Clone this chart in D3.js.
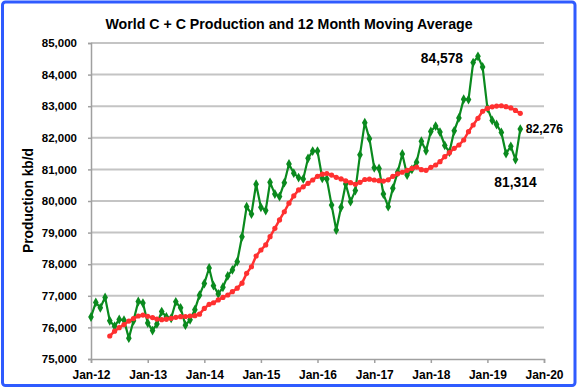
<!DOCTYPE html>
<html><head><meta charset="utf-8">
<script src="https://cdn.jsdelivr.net/npm/d3@7"></script>
<style>
html,body{margin:0;padding:0;background:#fff;}
svg{display:block;}
text{font-family:"Liberation Sans",Arial,sans-serif;font-weight:bold;fill:#000;}
</style></head>
<body>
<svg id="chart" width="578" height="390"></svg>
<script>
// ---- data ----
const title = "World C + C Production and 12 Month Moving Average";
const yAxisTitle = "Production kb/d";
const firstMonth = "2012-01";          // month of the first production value
const maFirstMonth = "2012-05";        // month of the first moving-average value
const xTickLabels = ["Jan-12","Jan-13","Jan-14","Jan-15","Jan-16","Jan-17","Jan-18","Jan-19","Jan-20"];
const yTicks = [75000,76000,77000,78000,79000,80000,81000,82000,83000,84000,85000];
const production = [
  76330,76790,76620,76950,76210,76040,76250,76230,75660,76210,76820,76770,
  76140,75900,76110,76500,76330,76290,76810,76620,76070,76240,76560,77020,
  77390,77880,77320,77060,77270,77630,77820,78080,78870,79820,79590,80530,
  79800,79700,80590,80220,80140,80580,81170,80880,80740,80700,81350,81580,
  81580,80720,80700,79870,79080,79800,80540,79980,80330,81460,82480,81970,
  81050,81030,80220,79820,80400,80910,81490,80820,81000,81230,81890,81590,
  82200,82370,82180,81760,81550,82220,82630,83220,83210,84380,84578,84240,
  82940,82550,82420,82170,81500,81730,81314,82276
];
const movingAvg = [
  75728,75880,75990,76090,76200,76280,76360,76390,
  76350,76310,76265,76245,76260,76287,76320,76340,76345,76360,76370,76420,
  76600,76730,76780,76870,76950,77025,77130,77240,77400,77710,77920,78260,
  78450,78610,78870,79135,79400,79660,79930,80160,80350,80450,80560,80665,
  80780,80850,80870,80820,80750,80700,80640,80580,80530,80590,80680,80690,
  80665,80643,80630,80670,80780,80860,80910,80970,81030,81075,80990,80970,
  81066,81139,81244,81403,81529,81667,81772,81930,82194,82405,82617,82840,
  82930,82980,83005,83015,82985,82945,82865,82775
];
const annotations = [
  {month:"2018-11", value:84578, text:"84,578"},
  {month:"2019-08", value:82276, text:"82,276"},
  {month:"2019-07", value:81314, text:"81,314"}
];

// ---- build ----
const parseM = d3.timeParse("%Y-%m");
const t0 = parseM(firstMonth), tMa = parseM(maFirstMonth);
const prodData = production.map((v,i)=>({date:d3.timeMonth.offset(t0,i), value:v}));
const maData = movingAvg.map((v,i)=>({date:d3.timeMonth.offset(tMa,i), value:v}));

const svg = d3.select("#chart");
const m = {left:91, right:34, top:43, bottom:31};
const W = 578, H = 390;

svg.append("rect").attr("x",0).attr("y",0).attr("width",W).attr("height",H).attr("fill","#fff");
svg.append("rect").attr("x",2.5).attr("y",2).attr("width",572.5).attr("height",383.5)
   .attr("rx",3).attr("fill","#fff").attr("stroke","#2f5bff").attr("stroke-width",3);

const x = d3.scaleTime()
  .domain([parseM("2012-01"), parseM("2020-01")])
  .range([m.left, W - m.right]);
const y = d3.scaleLinear()
  .domain([d3.min(yTicks), d3.max(yTicks)])
  .range([H - m.bottom, m.top]);

// gridlines
svg.append("g").selectAll("line").data(yTicks.slice(1)).join("line")
  .attr("x1", m.left).attr("x2", W - m.right)
  .attr("y1", d=>y(d)).attr("y2", d=>y(d))
  .attr("stroke","#c4c4c4").attr("stroke-width",2);

// y axis
const yAxis = svg.append("g").attr("transform",`translate(${m.left},0)`)
  .call(d3.axisLeft(y).tickValues(yTicks).tickFormat(d3.format(",")).tickSize(3).tickPadding(11));
yAxis.select(".domain").attr("stroke","#a0a0a0").attr("stroke-width",1.5);
yAxis.selectAll(".tick line").attr("stroke","#a0a0a0").attr("stroke-width",1.5);
yAxis.selectAll("text").style("font-size","11.5px").style("font-family","Liberation Sans, Arial, sans-serif").style("font-weight","bold");

// x axis
const xTickDates = xTickLabels.map(s=>d3.timeParse("%b-%y")(s));
const xAxis = svg.append("g").attr("transform",`translate(0,${H - m.bottom})`)
  .call(d3.axisBottom(x).tickValues(xTickDates).tickFormat((d,i)=>xTickLabels[i]).tickSize(4).tickPadding(7));
xAxis.select(".domain").attr("stroke","#a0a0a0").attr("stroke-width",1.5);
xAxis.selectAll(".tick line").attr("stroke","#a0a0a0").attr("stroke-width",1.5);
xAxis.selectAll("text").style("font-size","12px").style("font-family","Liberation Sans, Arial, sans-serif").style("font-weight","bold");

// title
svg.append("text").attr("x", 289).attr("y", 29).attr("text-anchor","middle")
  .style("font-size","14.2px").text(title);

// y axis title
svg.append("text").attr("transform","translate(33,200.5) rotate(-90)")
  .attr("text-anchor","middle").style("font-size","13.8px").text(yAxisTitle);

// series
const line = d3.line().x(d=>x(d.date)).y(d=>y(d.value));
const green = "#0a8a1e", red = "#ff3030";

svg.append("path").datum(prodData).attr("d",line)
  .attr("fill","none").attr("stroke",green).attr("stroke-width",2.2);
svg.append("g").selectAll("path").data(prodData).join("path")
  .attr("transform",d=>`translate(${x(d.date)},${y(d.value)})`)
  .attr("d", d3.symbol().type(d3.symbolDiamond).size(28))
  .attr("fill",green);

svg.append("path").datum(maData).attr("d",line)
  .attr("fill","none").attr("stroke",red).attr("stroke-width",2.5);
svg.append("g").selectAll("circle").data(maData).join("circle")
  .attr("cx",d=>x(d.date)).attr("cy",d=>y(d.value)).attr("r",2.6)
  .attr("fill",red);

// annotations
const ann = [
  {dx:-36, dy:7, size:"13.8px", anchor:"middle"},
  {dx:5.5, dy:3.5, size:"12.2px", anchor:"start"},
  {dx:0, dy:27.5, size:"13.8px", anchor:"middle"}
];
annotations.forEach((a,i)=>{
  const px = x(parseM(a.month)), py = y(a.value);
  svg.append("text")
    .attr("x", px + ann[i].dx).attr("y", py + ann[i].dy)
    .attr("text-anchor", ann[i].anchor)
    .style("font-size", ann[i].size).text(a.text);
});
</script>
</body></html>
